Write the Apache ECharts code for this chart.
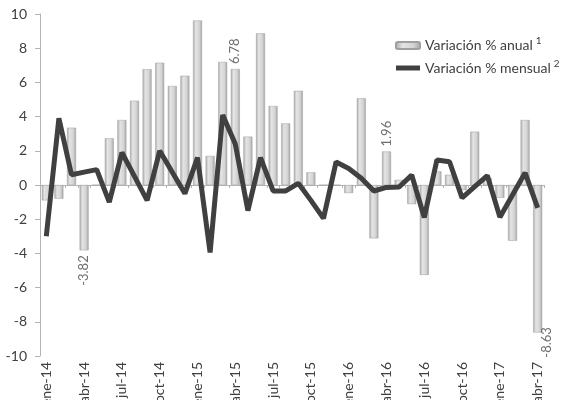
<!DOCTYPE html>
<html>
<head>
    <meta charset="utf-8">
    <title>variacion</title>
    <script src="https://cdn.jsdelivr.net/npm/echarts@6/dist/echarts.min.js"></script>
</head>
<body style="margin:0;background:#fff;">
<div id="main" style="width: 572px;height:400px;"></div>

<script type="text/javascript">
    // categorias mensuales
    var meses = ['ene-14', 'feb-14', 'mar-14', 'abr-14', 'may-14', 'jun-14', 'jul-14', 'ago-14', 'sep-14', 'oct-14', 'nov-14', 'dic-14',
        'ene-15', 'feb-15', 'mar-15', 'abr-15', 'may-15', 'jun-15', 'jul-15', 'ago-15', 'sep-15', 'oct-15', 'nov-15', 'dic-15',
        'ene-16', 'feb-16', 'mar-16', 'abr-16', 'may-16', 'jun-16', 'jul-16', 'ago-16', 'sep-16', 'oct-16', 'nov-16', 'dic-16',
        'ene-17', 'feb-17', 'mar-17', 'abr-17'];

    // variacion % anual (barras)
    var anual = [-0.9, -0.8, 3.35, -3.82, 0, 2.73, 3.8, 4.93, 6.77, 7.15, 5.79, 6.39,
        9.62, 1.7, 7.2, 6.78, 2.83, 8.87, 4.62, 3.6, 5.51, 0.74, 0, 0,
        -0.47, 5.07, -3.12, 1.96, 0.3, -1.12, -5.26, 0.8, 0.6, -0.3, 3.12, 0.4,
        -0.75, -3.26, 3.8, -8.63];

    // variacion % mensual (linea)
    var mensual = [-3.0, 3.9, 0.6, 0.75, 0.9, -1.0, 1.9, 0.5, -0.9, 2.0, 0.75, -0.5,
        1.6, -3.95, 4.1, 2.4, -1.5, 1.6, -0.35, -0.35, 0.1, -0.9, -1.95, 1.35,
        0.97, 0.4, -0.35, -0.14, -0.12, 0.58, -1.9, 1.46, 1.36, -0.75, -0.1, 0.55,
        -1.88, -0.58, 0.71, -1.34];

    // indices con etiqueta
    var etiquetasAnual = [3, 15, 27, 39];
    var etiquetasMensual = [38, 39];

    var myChart = echarts.init(document.getElementById('main'));

    var barGrad = new echarts.graphic.LinearGradient(0, 0, 1, 0, [
        {offset: 0, color: '#a9a9a9'},
        {offset: 0.3, color: '#e4e4e4'},
        {offset: 0.7, color: '#d4d4d4'},
        {offset: 1, color: '#a4a4a4'}
    ]);

    var barData = anual.map(function (v, i) {
        var item = {value: v};
        if (etiquetasAnual.indexOf(i) >= 0) {
            item.label = {
                show: true,
                position: v >= 0 ? 'top' : 'bottom',
                rotate: 90,
                align: v >= 0 ? 'left' : 'right',
                verticalAlign: 'middle',
                distance: 5,
                color: '#6e6e6e',
                fontSize: 13,
                fontFamily: 'Lato'
            };
            // la ultima no cabe debajo: va a la derecha de la barra
            if (i === anual.length - 1) {
                item.label.position = ['150%', '117%'];
                item.label.align = 'left';
            }
        }
        return item;
    });

    var lineData = mensual.map(function (v, i) {
        var item = {value: v};
        if (etiquetasMensual.indexOf(i) >= 0) {
            item.label = {
                show: true,
                position: i === 39 ? 'right' : 'top',
                distance: i === 39 ? 8 : 9,
                color: '#404040',
                fontSize: 13,
                fontFamily: 'Lato'
            };
        }
        return item;
    });

    var option = {
        animation: false,
        textStyle: {fontFamily: 'Lato'},
        grid: {left: 40, right: 28, top: 14, bottom: 44, outerBoundsMode: 'none', containLabel: false},
        legend: {
            orient: 'vertical',
            left: 390,
            top: 31,
            itemWidth: 24,
            itemHeight: 7,
            itemGap: 6,
            textStyle: {
                color: '#404040',
                fontSize: 14,
                fontFamily: 'Lato',
                rich: {
                    t: {fontSize: 14, color: '#404040', fontFamily: 'Lato'},
                    s: {fontSize: 10, color: '#404040', fontFamily: 'Lato', padding: [0, 0, 9, 3]}
                }
            },
            formatter: function (name) {
                return name === 'Variación % anual' ? '{t|Variación % anual}{s|1}' : '{t|Variación % mensual}{s|2}';
            },
            data: [
                {name: 'Variación % anual'},
                {name: 'Variación % mensual', icon: 'path://M0,0h24v5h-24z', itemStyle: {color: '#404040'}}
            ]
        },
        xAxis: [{
            type: 'category',
            data: meses,
            position: 'bottom',
            axisLine: {show: false, onZero: false},
            axisTick: {show: false},
            axisLabel: {
                interval: 2,
                rotate: 90,
                margin: 6,
                color: '#404040',
                fontSize: 14
            }
        }, {
            type: 'category',
            data: meses,
            position: 'bottom',
            axisLine: {show: true, onZero: true, lineStyle: {color: '#b4b4b4', width: 1}},
            axisTick: {show: true, interval: 0, length: 3, lineStyle: {color: '#b4b4b4'}},
            axisLabel: {show: false}
        }],
        yAxis: {
            type: 'value',
            min: -10,
            max: 10,
            interval: 2,
            axisLine: {show: true, lineStyle: {color: '#b4b4b4'}},
            axisTick: {show: true, length: 5, lineStyle: {color: '#b4b4b4'}},
            splitLine: {show: false},
            axisLabel: {color: '#404040', fontSize: 14, margin: 13}
        },
        series: [{
            name: 'Variación % anual',
            type: 'bar',
            barWidth: 9,
            itemStyle: {color: barGrad, borderColor: '#a0a0a0', borderWidth: 0.5},
            data: barData
        }, {
            name: 'Variación % mensual',
            type: 'line',
            symbol: 'none',
            z: 5,
            lineStyle: {color: '#404040', width: 5},
            itemStyle: {color: '#404040'},
            data: lineData
        }]
    };

    myChart.setOption(option);
</script>
</body>
</html>
